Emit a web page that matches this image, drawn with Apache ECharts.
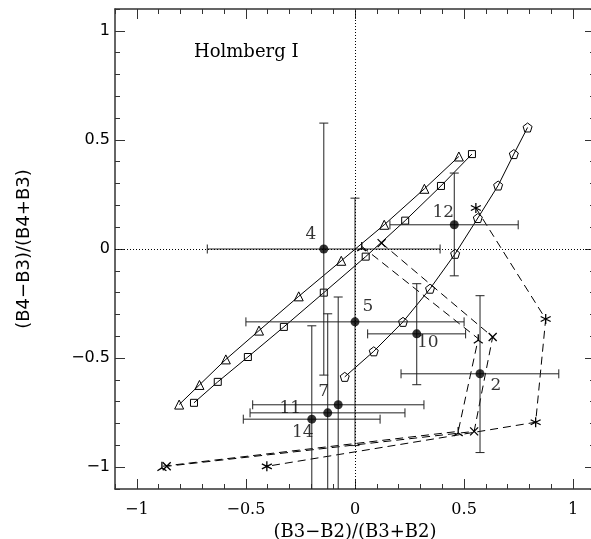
<!DOCTYPE html>
<html>
<head>
<meta charset="utf-8">
<script src="https://cdn.jsdelivr.net/npm/echarts@6/dist/echarts.min.js"></script>
<style>
  html, body { margin: 0; padding: 0; background: #fff; }
  #chart { width: 591px; height: 539px; }
</style>
</head>
<body>
<div id="chart"></div>
<script>
// model tracks (solid lines with open markers)
var triangleTrack = [[-0.806, -0.713], [-0.713, -0.623], [-0.592, -0.506], [-0.440, -0.374], [-0.258, -0.217],
                     [-0.063, -0.054], [0.134, 0.111], [0.318, 0.276], [0.476, 0.424]];
var squareTrack = [[-0.738, -0.705], [-0.629, -0.609], [-0.491, -0.495], [-0.326, -0.357], [-0.143, -0.200],
                   [0.049, -0.035], [0.230, 0.130], [0.394, 0.289], [0.536, 0.435]];
var pentagonTrack = [[-0.047, -0.586], [0.086, -0.469], [0.220, -0.334], [0.344, -0.182], [0.459, -0.022],
                     [0.563, 0.142], [0.656, 0.291], [0.728, 0.435], [0.791, 0.557]];

// dashed tracks
var tripodTrack = [[0.031, 0.012], [0.565, -0.411], [0.473, -0.836], [-0.885, -0.996]];
var crossTrack = [[0.122, 0.027], [0.631, -0.403], [0.546, -0.836], [-0.863, -0.996]];
var starTrack = [[0.554, 0.188], [0.874, -0.321], [0.828, -0.794], [-0.404, -0.996]];

// regions with error bars
var regionNames = ['4', '12', '5', '10', '2', '7', '11', '14'];
var regionX   = [-0.143, 0.455, 0.000, 0.283, 0.573, -0.125, -0.077, -0.198];
var regionY   = [0.000, 0.111, -0.334, -0.389, -0.572, -0.751, -0.714, -0.780];
var regionXLo = [-0.677, 0.160, -0.500, 0.058, 0.211, -0.481, -0.469, -0.512];
var regionXHi = [0.390, 0.748, 0.500, 0.507, 0.934, 0.229, 0.316, 0.115];
var regionYLo = [-0.578, -0.123, -0.901, -0.622, -0.933, -1.205, -1.208, -1.208];
var regionYHi = [0.577, 0.348, 0.233, -0.159, -0.214, -0.297, -0.220, -0.352];

var majorTicks = [-1, -0.5, 0, 0.5, 1];

// label placement (px from the dot)
var labelOffset = {
  '4': [-13, -14], '12': [-11, -12], '5': [13, -15], '10': [11, 9],
  '2': [16, 12], '7': [-4, -21], '11': [-48, 4], '14': [-9, 13]
};

var serif = '"DejaVu Serif", "Liberation Serif", serif';
var sans = '"DejaVu Sans", "Liberation Sans", sans-serif';
var frameColor = '#333';

function fmt(v) {
  if (Math.abs(v) < 1e-9) return '0';
  var a = Math.round(Math.abs(v) * 10) / 10;
  return (v < 0 ? '\u2212' : '') + a;
}
function isMajor(v) {
  return Math.abs(v * 2 - Math.round(v * 2)) < 1e-6 && Math.abs(v) <= 1.0001;
}

function axisOf(dim, pos, major, showLabel) {
  var ax = {
    type: 'value', position: pos, min: -1.1, max: 1.1,
    splitLine: { show: false },
    axisLine: { show: !major, onZero: false, lineStyle: { color: frameColor, width: 1.5 } },
    axisTick: { inside: true, length: major ? 10 : 5, lineStyle: { color: frameColor, width: 1 } },
    axisLabel: { show: false }
  };
  if (major) {
    ax.axisTick.customValues = majorTicks;
  } else {
    ax.interval = 0.1;
  }
  if (showLabel) {
    ax.axisLabel = {
      show: true,
      margin: dim === 'x' ? 13 : 5,
      color: '#000',
      fontFamily: dim === 'x' ? serif : sans,
      fontSize: 16,
      formatter: function (v) { return isMajor(v) ? fmt(v) : ''; }
    };
  }
  return ax;
}

var xAxes = [axisOf('x', 'bottom', false, true), axisOf('x', 'bottom', true, false),
             axisOf('x', 'top', false, false), axisOf('x', 'top', true, false)];
xAxes[0].name = '(B3\u2212B2)/(B3+B2)';
xAxes[0].nameLocation = 'middle';
xAxes[0].nameGap = 24;
xAxes[0].nameTextStyle = { fontFamily: serif, fontSize: 18, color: '#000' };

var yAxes = [axisOf('y', 'left', false, true), axisOf('y', 'left', true, false),
             axisOf('y', 'right', false, false), axisOf('y', 'right', true, false)];
yAxes[0].name = '(B4\u2212B3)/(B4+B3)';
yAxes[0].nameLocation = 'middle';
yAxes[0].nameGap = 82;
yAxes[0].nameTextStyle = { fontFamily: sans, fontSize: 18, color: '#000' };

var pentagonPath = 'path://M0,-1 L0.951,-0.309 L0.588,0.809 L-0.588,0.809 L-0.951,-0.309 Z';
var tripodPath = 'path://M0,-1 L0,0.35 M0,0.35 L-0.9,1 M0,0.35 L0.9,1';
var crossPath = 'path://M-1,-1 L1,1 M1,-1 L-1,1';
var starPath = 'path://M0,-1 L0,1 M-0.87,-0.5 L0.87,0.5 M-0.87,0.5 L0.87,-0.5';

function solidTrack(data, symbol, size) {
  return {
    type: 'line', data: data, symbol: symbol, symbolSize: size,
    lineStyle: { color: '#000', width: 1 },
    itemStyle: { color: 'none', borderColor: '#000', borderWidth: 1 },
    emphasis: { disabled: true }, silent: true, animation: false, z: 3
  };
}
function dashedTrack(data, symbol, size) {
  return {
    type: 'line', data: data, symbol: symbol, symbolSize: size,
    lineStyle: { color: '#000', width: 1, type: [8, 5] },
    itemStyle: { color: 'none', borderColor: '#000', borderWidth: 1.3 },
    emphasis: { disabled: true }, silent: true, animation: false, z: 3
  };
}

function errorBarItem(params, api) {
  var cs = params.coordSys;
  var top = cs.y, bottom = cs.y + cs.height, left = cs.x, right = cs.x + cs.width;
  var p = api.coord([api.value(0), api.value(1)]);
  var l = api.coord([api.value(2), api.value(1)])[0];
  var r = api.coord([api.value(3), api.value(1)])[0];
  var lo = api.coord([api.value(0), api.value(4)])[1];
  var hi = api.coord([api.value(0), api.value(5)])[1];
  var cap = 4.5;
  var style = { stroke: '#222', lineWidth: 1 };
  var children = [];
  function seg(x1, y1, x2, y2) {
    children.push({ type: 'line', shape: { x1: x1, y1: y1, x2: x2, y2: y2 }, style: style });
  }
  seg(Math.max(l, left), p[1], Math.min(r, right), p[1]);
  if (l >= left) seg(l, p[1] - cap, l, p[1] + cap);
  if (r <= right) seg(r, p[1] - cap, r, p[1] + cap);
  seg(p[0], Math.max(hi, top), p[0], Math.min(lo, bottom));
  if (hi >= top) seg(p[0] - cap, hi, p[0] + cap, hi);
  if (lo <= bottom) seg(p[0] - cap, lo, p[0] + cap, lo);
  return { type: 'group', children: children };
}

var errorData = regionNames.map(function (n, i) {
  return [regionX[i], regionY[i], regionXLo[i], regionXHi[i], regionYLo[i], regionYHi[i]];
});
var dotData = regionNames.map(function (n, i) {
  return { name: n, value: [regionX[i], regionY[i]], label: { offset: labelOffset[n] } };
});

var chart = echarts.init(document.getElementById('chart'));
chart.setOption({
  animation: false,
  grid: { left: 115, width: 480, top: 9, height: 480, outerBoundsMode: 'none', containLabel: false },
  xAxis: xAxes,
  yAxis: yAxes,
  graphic: [{
    type: 'text', left: 194, top: 43,
    style: { text: 'Holmberg I', font: '18px ' + serif, fill: '#000' }
  }],
  series: [
    {
      type: 'line', data: [], silent: true,
      markLine: {
        silent: true, symbol: 'none', label: { show: false },
        lineStyle: { color: '#000', width: 1, type: [1, 2] },
        data: [{ xAxis: 0 }, { yAxis: 0 }]
      }
    },
    solidTrack(triangleTrack, 'triangle', 9),
    solidTrack(squareTrack, 'rect', 7),
    solidTrack(pentagonTrack, pentagonPath, 9),
    dashedTrack(tripodTrack, tripodPath, 9),
    dashedTrack(crossTrack, crossPath, 8),
    dashedTrack(starTrack, starPath, 10),
    {
      type: 'custom', renderItem: errorBarItem, data: errorData,
      encode: { x: 0, y: 1 }, silent: true, z: 4
    },
    {
      type: 'scatter', data: dotData, symbol: 'circle', symbolSize: 9,
      itemStyle: { color: '#000' }, silent: true, z: 5,
      label: {
        show: true, position: 'inside', formatter: '{b}', color: '#000',
        fontFamily: serif, fontSize: 17
      }
    }
  ]
});
</script>
</body>
</html>
